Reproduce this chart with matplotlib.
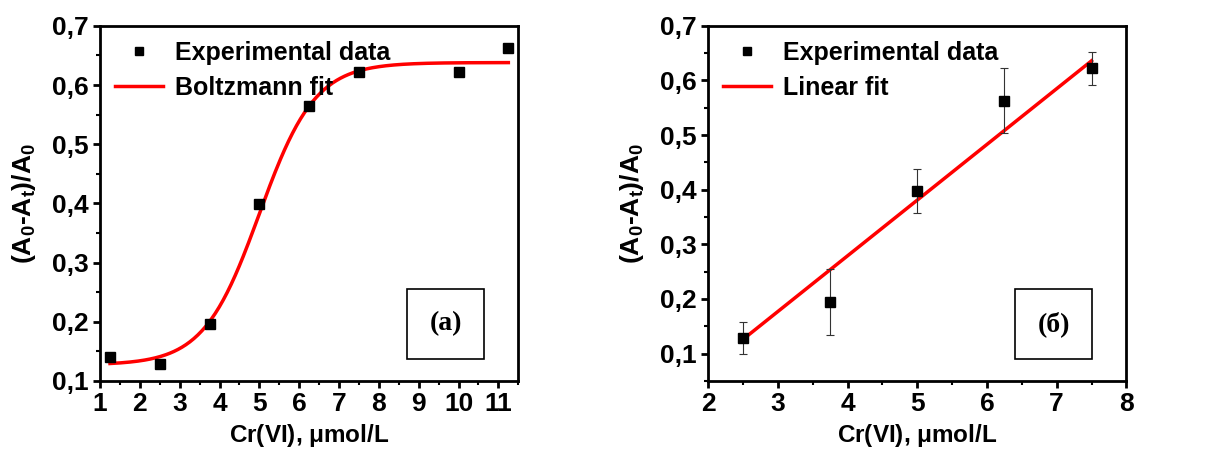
import matplotlib
matplotlib.use('Agg')
import matplotlib.pyplot as plt
from matplotlib.ticker import MultipleLocator, FuncFormatter
from matplotlib.lines import Line2D
import numpy as np

plt.rcParams['font.family'] = 'Liberation Sans'
plt.rcParams['font.weight'] = 'bold'
plt.rcParams['mathtext.fontset'] = 'custom'
plt.rcParams['mathtext.rm'] = 'Liberation Sans:bold'
plt.rcParams['mathtext.it'] = 'Liberation Sans:bold'
plt.rcParams['mathtext.bf'] = 'Liberation Sans:bold'

# panel (a): Boltzmann
conc_a = [1.25, 2.5, 3.75, 5.0, 6.25, 7.5, 10.0, 11.25]
resp_a = [0.140, 0.129, 0.196, 0.399, 0.564, 0.622, 0.622, 0.663]
# Boltzmann fit parameters
boltz_A1, boltz_A2, boltz_x0, boltz_dx = 0.127, 0.638, 5.0, 0.70

# panel (б): linear
conc_b = [2.5, 3.75, 5.0, 6.25, 7.5]
resp_b = [0.128, 0.194, 0.398, 0.563, 0.622]
err_b = [0.029, 0.060, 0.040, 0.059, 0.030]
lin_slope, lin_intercept = 0.102, -0.129

ylabel = r'(A$_0$-A$_t$)/A$_0$'
xlabel = r'Cr(VI), $\mu$mol/L'
comma = FuncFormatter(lambda v, p: f'{v:.1f}'.replace('.', ','))

fig = plt.figure(figsize=(12.23, 4.54), dpi=100)
ax1 = fig.add_axes([0.0818, 0.161, 0.342, 0.782])
ax2 = fig.add_axes([0.579, 0.161, 0.342, 0.782])

# (a)
ax1.plot(conc_a, resp_a, 's', color='black', markersize=7, zorder=3)
xf = np.linspace(min(conc_a), max(conc_a), 300)
yf = boltz_A2 + (boltz_A1 - boltz_A2) / (1 + np.exp((xf - boltz_x0) / boltz_dx))
ax1.plot(xf, yf, color='red', linewidth=2.5, zorder=2)
ax1.set_xlim(1, 11.5)
ax1.set_ylim(0.1, 0.7)
ax1.xaxis.set_major_locator(MultipleLocator(1))
ax1.xaxis.set_minor_locator(MultipleLocator(0.5))

# (б)
ax2.errorbar(conc_b, resp_b, yerr=err_b, fmt='s', color='black', markersize=7,
             ecolor='#333333', elinewidth=0.8, capsize=3, capthick=0.8, zorder=3)
xl = np.array([min(conc_b), max(conc_b)])
ax2.plot(xl, lin_slope * xl + lin_intercept, color='red', linewidth=2.5, zorder=2)
ax2.set_xlim(2, 8)
ax2.set_ylim(0.05, 0.7)
ax2.xaxis.set_major_locator(MultipleLocator(1))
ax2.xaxis.set_minor_locator(MultipleLocator(0.5))

for ax, tag, fitname in [(ax1, '(a)', 'Boltzmann fit'), (ax2, '(б)', 'Linear fit')]:
    ax.yaxis.set_major_locator(MultipleLocator(0.1))
    ax.yaxis.set_minor_locator(MultipleLocator(0.05))
    ax.yaxis.set_major_formatter(comma)
    ax.tick_params(which='major', direction='out', length=5, width=2, labelsize=19, pad=3)
    ax.tick_params(which='minor', direction='out', length=3, width=1.5)
    for s in ax.spines.values():
        s.set_linewidth(2)
    ax.set_xlabel(xlabel, fontsize=17.5, fontweight='bold', labelpad=4)
    ax.set_ylabel(ylabel, fontsize=19, fontweight='bold', labelpad=10)
    handles = [Line2D([], [], marker='s', linestyle='none', color='black', markersize=6),
               Line2D([], [], color='red', linewidth=2.5)]
    ax.legend(handles, ['Experimental data', fitname], loc='upper left', frameon=False,
              fontsize=18, handlelength=1.9, handletextpad=0.5, labelspacing=0.45,
              borderaxespad=0.2, bbox_to_anchor=(0.0, 1.0))
    ax.text(0.826, 0.16, tag, transform=ax.transAxes, ha='center', va='center',
            fontsize=20, fontweight='bold', family='Liberation Serif',
            bbox=dict(boxstyle='square,pad=0.8', facecolor='white', edgecolor='black', linewidth=1.2))

fig.savefig('out.png', dpi=100)
